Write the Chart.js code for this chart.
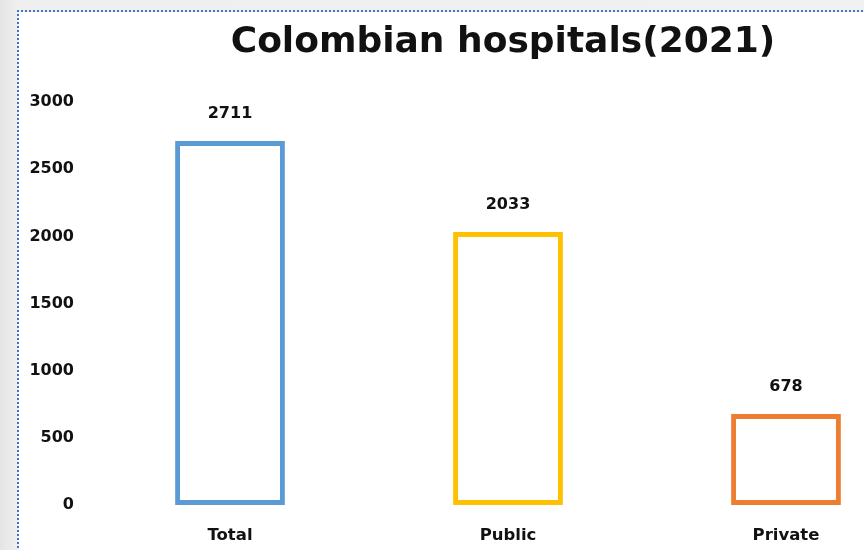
<!DOCTYPE html>
<html>
<head>
<meta charset="utf-8">
<script src="https://cdn.jsdelivr.net/npm/chart.js@4"></script>
<style>
  html, body { margin: 0; padding: 0; }
  body {
    width: 864px; height: 550px; overflow: hidden; position: relative;
    background: linear-gradient(to right, #e4e4e4, #efefef 17px, #f1f1f1);
  }
  #sheet {
    position: absolute; left: 19px; top: 12px; width: 845px; height: 538px;
    background: #fff; overflow: hidden;
  }
  #topDots {
    position: absolute; left: 17px; top: 10px; width: 847px; height: 2px;
    background: repeating-linear-gradient(to right, #4472c4 0 2px, transparent 2px 4px);
  }
  #leftDots {
    position: absolute; left: 17px; top: 10px; width: 2px; height: 540px;
    background: repeating-linear-gradient(to bottom, #4472c4 0 2px, transparent 2px 4px);
  }
  #hospChart { position: absolute; left: 1px; top: 0; }
</style>
</head>
<body>
<div id="sheet">
  <canvas id="hospChart" width="966" height="538"></canvas>
</div>
<div id="topDots"></div>
<div id="leftDots"></div>

<script>
const categories = ["Total", "Public", "Private"];
const hospitalCounts = [2711, 2033, 678];
const barColors = ["#5b9bd5", "#ffc000", "#ed7d31"];
const yTicks = [0, 500, 1000, 1500, 2000, 2500, 3000];

const fontFamily = "'DejaVu Sans', sans-serif";

// value labels above each bar
const valueLabels = {
    id: "valueLabels",
    afterDatasetsDraw(chart) {
        const ctx = chart.ctx;
        const meta = chart.getDatasetMeta(0);
        ctx.save();
        ctx.font = "bold 16px " + fontFamily;
        ctx.fillStyle = "#111";
        ctx.textAlign = "center";
        ctx.textBaseline = "middle";
        meta.data.forEach(function (bar, i) {
            ctx.fillText(String(hospitalCounts[i]), bar.x, bar.y - 27);
        });
        ctx.restore();
    }
};

const ctx = document.getElementById("hospChart").getContext("2d");

// the chart runs past the right edge of the sheet, like the cropped original
window.hospChart = new Chart(ctx, {
    type: "bar",
    data: {
        labels: categories,
        datasets: [
            {
                label: "Hospitals",
                data: hospitalCounts,
                backgroundColor: "#ffffff",
                borderColor: barColors,
                borderWidth: 5,
                borderSkipped: false,
                barPercentage: 0.395,
                categoryPercentage: 1,
            },
        ],
    },
    options: {
        responsive: false,
        animation: false,
        layout: {
            padding: 0,
        },
        plugins: {
            legend: { display: false },
            tooltip: { enabled: false },
            title: {
                display: true,
                text: "Colombian hospitals(2021)",
                color: "#111",
                font: { family: fontFamily, size: 36, weight: "bold" },
                padding: { top: 9, bottom: 38 },
            },
        },
        scales: {
            x: {
                grid: { display: false, drawTicks: false },
                border: { display: false },
                ticks: {
                    color: "#111",
                    padding: 21,
                    font: { family: fontFamily, size: 16.5, weight: "bold" },
                },
                afterFit(scale) { scale.height = 45; },
            },
            y: {
                min: 0,
                max: 3000,
                grid: { display: false, drawTicks: false },
                border: { display: false },
                afterBuildTicks(scale) {
                    scale.ticks = yTicks.map(function (v) { return { value: v }; });
                },
                ticks: {
                    color: "#111",
                    padding: 17,
                    font: { family: fontFamily, size: 16, weight: "bold" },
                    callback: function (value) { return String(value); },
                },
                afterFit(scale) { scale.width = 71; },
            },
            // empty axis: keeps space on the right so the title stays centred on the page
            yRight: {
                position: "right",
                grid: { display: false, drawTicks: false },
                border: { display: false },
                ticks: { display: false },
                afterFit(scale) { scale.width = 61; },
            },
        },
    },
    plugins: [valueLabels],
});
</script>
</body>
</html>
